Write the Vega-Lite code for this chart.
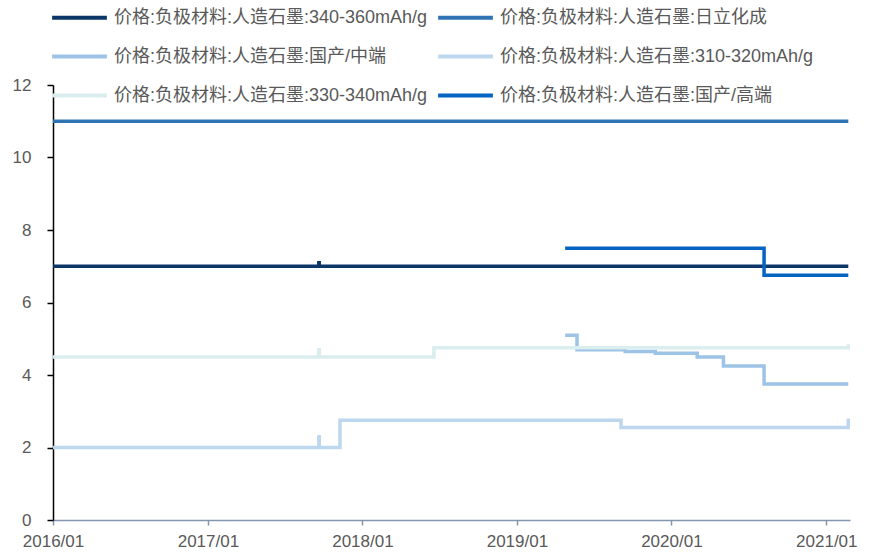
{
  "$schema": "https://vega.github.io/schema/vega-lite/v6.json",
  "width": 797,
  "height": 435,
  "autosize": {"type": "none"},
  "padding": {"left": 53, "top": 85, "right": 21, "bottom": 34},
  "background": "#ffffff",
  "config": {
    "view": {"stroke": null},
    "font": "Liberation Sans, Noto Sans CJK SC"
  },
  "data": {
    "values": [
      {"date": "2016/01/01", "series": "价格:负极材料:人造石墨:340-360mAh/g", "value": 7},
      {"date": "2017/09/20", "series": "价格:负极材料:人造石墨:340-360mAh/g", "value": 7.1},
      {"date": "2017/09/21", "series": "价格:负极材料:人造石墨:340-360mAh/g", "value": 7},
      {"date": "2021/02/22", "series": "价格:负极材料:人造石墨:340-360mAh/g", "value": 7},

      {"date": "2016/01/01", "series": "价格:负极材料:人造石墨:日立化成", "value": 11},
      {"date": "2021/02/22", "series": "价格:负极材料:人造石墨:日立化成", "value": 11},

      {"date": "2019/04/25", "series": "价格:负极材料:人造石墨:国产/中端", "value": 5.1},
      {"date": "2019/05/23", "series": "价格:负极材料:人造石墨:国产/中端", "value": 4.7},
      {"date": "2019/09/14", "series": "价格:负极材料:人造石墨:国产/中端", "value": 4.65},
      {"date": "2019/11/24", "series": "价格:负极材料:人造石墨:国产/中端", "value": 4.6},
      {"date": "2020/03/02", "series": "价格:负极材料:人造石墨:国产/中端", "value": 4.5},
      {"date": "2020/05/03", "series": "价格:负极材料:人造石墨:国产/中端", "value": 4.25},
      {"date": "2020/08/07", "series": "价格:负极材料:人造石墨:国产/中端", "value": 3.75},
      {"date": "2021/02/22", "series": "价格:负极材料:人造石墨:国产/中端", "value": 3.75},

      {"date": "2016/01/01", "series": "价格:负极材料:人造石墨:310-320mAh/g", "value": 2},
      {"date": "2017/09/20", "series": "价格:负极材料:人造石墨:310-320mAh/g", "value": 2.3},
      {"date": "2017/09/21", "series": "价格:负极材料:人造石墨:310-320mAh/g", "value": 2},
      {"date": "2017/11/09", "series": "价格:负极材料:人造石墨:310-320mAh/g", "value": 2.75},
      {"date": "2019/09/04", "series": "价格:负极材料:人造石墨:310-320mAh/g", "value": 2.55},
      {"date": "2021/02/22", "series": "价格:负极材料:人造石墨:310-320mAh/g", "value": 2.8},

      {"date": "2016/01/01", "series": "价格:负极材料:人造石墨:330-340mAh/g", "value": 4.5},
      {"date": "2017/09/20", "series": "价格:负极材料:人造石墨:330-340mAh/g", "value": 4.7},
      {"date": "2017/09/21", "series": "价格:负极材料:人造石墨:330-340mAh/g", "value": 4.5},
      {"date": "2018/06/19", "series": "价格:负极材料:人造石墨:330-340mAh/g", "value": 4.75},
      {"date": "2021/02/22", "series": "价格:负极材料:人造石墨:330-340mAh/g", "value": 4.85},

      {"date": "2019/04/25", "series": "价格:负极材料:人造石墨:国产/高端", "value": 7.5},
      {"date": "2020/08/07", "series": "价格:负极材料:人造石墨:国产/高端", "value": 6.75},
      {"date": "2021/02/22", "series": "价格:负极材料:人造石墨:国产/高端", "value": 6.75}
    ]
  },
  "mark": {"type": "line", "interpolate": "step-after", "strokeWidth": 3.5},
  "encoding": {
    "x": {
      "field": "date",
      "type": "temporal",
      "scale": {
        "domain": [
          {"year": 2016, "month": 1, "date": 1},
          {"year": 2021, "month": 2, "date": 26}
        ]
      },
      "axis": {
        "title": null,
        "format": "%Y/%m",
        "values": [
          {"year": 2016, "month": 1, "date": 1},
          {"year": 2017, "month": 1, "date": 1},
          {"year": 2018, "month": 1, "date": 1},
          {"year": 2019, "month": 1, "date": 1},
          {"year": 2020, "month": 1, "date": 1},
          {"year": 2021, "month": 1, "date": 1}
        ],
        "grid": false,
        "labelFlush": false,
        "labelOverlap": false,
        "labelFontSize": 17,
        "labelColor": "#595959",
        "labelPadding": 8,
        "tickSize": 5,
        "tickColor": "#8497b0",
        "domainColor": "#8497b0",
        "domainWidth": 1.5,
        "tickWidth": 1.5
      }
    },
    "y": {
      "field": "value",
      "type": "quantitative",
      "scale": {"domain": [0, 12]},
      "axis": {
        "title": null,
        "values": [0, 2, 4, 6, 8, 10, 12],
        "grid": false,
        "labelFontSize": 17,
        "labelColor": "#595959",
        "labelPadding": 16,
        "tickSize": 6,
        "tickColor": "#000000",
        "domainColor": "#000000",
        "domainWidth": 1.5,
        "tickWidth": 1.5
      }
    },
    "color": {
      "field": "series",
      "type": "nominal",
      "scale": {
        "domain": [
          "价格:负极材料:人造石墨:340-360mAh/g",
          "价格:负极材料:人造石墨:日立化成",
          "价格:负极材料:人造石墨:国产/中端",
          "价格:负极材料:人造石墨:310-320mAh/g",
          "价格:负极材料:人造石墨:330-340mAh/g",
          "价格:负极材料:人造石墨:国产/高端"
        ],
        "range": ["#0c3667", "#2e74b5", "#9dc3e6", "#bdd7ee", "#daedef", "#0563c1"]
      },
      "legend": {
        "title": null,
        "orient": "none",
        "legendX": -3,
        "legendY": -97,
        "columns": 2,
        "direction": "horizontal",
        "symbolType": "stroke",
        "symbolSize": 3000,
        "symbolStrokeWidth": 4,
        "labelFontSize": 18,
        "labelColor": "#595959",
        "labelOffset": 5,
        "labelLimit": 0,
        "columnPadding": 2,
        "rowPadding": -4,
        "padding": 0
      }
    }
  }
}
